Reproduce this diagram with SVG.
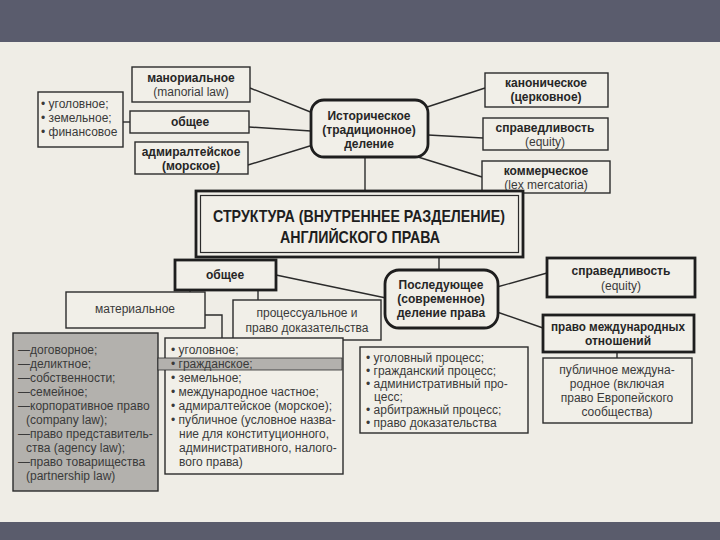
<svg xmlns="http://www.w3.org/2000/svg" width="720" height="540" viewBox="0 0 720 540">
<style>
.bx{fill:#f1efe8;stroke:#2b2b2b;stroke-width:1.4}
.bk{fill:#f1efe8;stroke:#1e1e1e;stroke-width:2.8}
.rn{fill:#f1efe8;stroke:#1e1e1e;stroke-width:2.8}
.ln{fill:none;stroke:#2b2b2b;stroke-width:1.4}
text{font-family:"Liberation Sans",Arial,sans-serif;font-size:12px;fill:#3a3a3a}
.b{font-weight:bold;font-size:12px;fill:#262626}
.c{text-anchor:middle}
.t{font-weight:bold;font-size:16.5px;fill:#1e1e1e;text-anchor:middle}
</style>
<rect x="0" y="0" width="720" height="540" fill="#efede6"/>
<rect x="0" y="0" width="720" height="42" fill="#5a5c6d"/>
<rect x="0" y="522" width="720" height="18" fill="#5a5c6c"/>

<g id="connectors">
<line class="ln" x1="123" y1="122" x2="130" y2="122"/>
<line class="ln" x1="250" y1="88" x2="313" y2="113"/>
<line class="ln" x1="249" y1="127" x2="311" y2="131"/>
<line class="ln" x1="248" y1="165" x2="313" y2="145"/>
<line class="ln" x1="418" y1="110" x2="485" y2="88"/>
<line class="ln" x1="428" y1="135" x2="483" y2="138"/>
<line class="ln" x1="418" y1="157" x2="482" y2="177"/>
<line class="ln" x1="365" y1="157" x2="365" y2="191"/>
<line class="ln" x1="439" y1="257" x2="439" y2="270"/>
<line class="ln" x1="276" y1="275" x2="386" y2="298"/>
<line class="ln" x1="497" y1="287" x2="547" y2="273"/>
<line class="ln" x1="497" y1="312" x2="543" y2="328"/>
<line class="ln" x1="617" y1="352" x2="617" y2="358"/>
<line class="ln" x1="190" y1="290" x2="190" y2="292"/>
<line class="ln" x1="258" y1="290" x2="258" y2="300"/>
<polyline class="ln" points="205,315 222,315 222,338"/>
</g>

<g id="n-list-top">
<rect class="bx" x="38" y="92" width="85" height="55"/>
<text x="41" y="108">• уголовное;</text>
<text x="41" y="122">• земельное;</text>
<text x="41" y="136">• финансовое</text>
</g>
<g id="n-manorial">
<rect class="bx" x="132" y="67" width="118" height="35"/>
<text class="b c" x="191" y="82">манориальное</text>
<text class="c" x="191" y="96">(manorial law)</text>
</g>
<g id="n-common-top">
<rect class="bx" x="130" y="111" width="119" height="22"/>
<text class="b c" x="190" y="126">общее</text>
</g>
<g id="n-admiralty">
<rect class="bx" x="135" y="142" width="113" height="32"/>
<text class="b c" x="191" y="156">адмиралтейское</text>
<text class="b c" x="191" y="170">(морское)</text>
</g>
<g id="n-historical">
<rect class="rn" x="311" y="100" width="117" height="57" rx="13"/>
<text class="b c" x="369" y="120">Историческое</text>
<text class="b c" x="369" y="134">(традиционное)</text>
<text class="b c" x="369" y="148">деление</text>
</g>
<g id="n-canon">
<rect class="bx" x="485" y="73" width="123" height="34"/>
<text class="b c" x="546" y="87">каноническое</text>
<text class="b c" x="546" y="101">(церковное)</text>
</g>
<g id="n-equity-top">
<rect class="bx" x="483" y="118" width="125" height="32"/>
<text class="b c" x="545" y="132">справедливость</text>
<text class="c" x="545" y="146">(equity)</text>
</g>
<g id="n-commercial">
<rect class="bx" x="482" y="161" width="128" height="32"/>
<text class="b c" x="546" y="175">коммерческое</text>
<text class="c" x="546" y="189">(lex mercatoria)</text>
</g>

<g id="n-structure">
<rect class="bk" x="196" y="191" width="327" height="66"/>
<rect x="200.5" y="195.5" width="318" height="57" fill="none" stroke="#2b2b2b" stroke-width="1.2"/>
<text class="t" x="359" y="222" textLength="292" lengthAdjust="spacingAndGlyphs">СТРУКТУРА (ВНУТРЕННЕЕ РАЗДЕЛЕНИЕ)</text>
<text class="t" x="360" y="243" textLength="160" lengthAdjust="spacingAndGlyphs">АНГЛИЙСКОГО ПРАВА</text>
</g>

<g id="n-common">
<rect class="bk" x="175" y="260" width="101" height="30"/>
<text class="b c" x="225" y="279">общее</text>
</g>
<g id="n-modern">
<rect class="rn" x="385" y="270" width="113" height="58" rx="14"/>
<text class="b c" x="441" y="289">Последующее</text>
<text class="b c" x="441" y="303">(современное)</text>
<text class="b c" x="441" y="317">деление права</text>
</g>
<g id="n-equity">
<rect class="bk" x="547" y="258" width="148" height="39"/>
<text class="b c" x="621" y="275">справедливость</text>
<text class="c" x="621" y="290">(equity)</text>
</g>
<g id="n-intl">
<rect class="bk" x="543" y="315" width="151" height="37"/>
<text class="b c" x="618" y="331" textLength="134" lengthAdjust="spacingAndGlyphs">право международных</text>
<text class="b c" x="618" y="345">отношений</text>
</g>
<g id="n-public-intl">
<rect class="bx" x="543" y="358" width="149" height="65"/>
<text class="c" x="617" y="374">публичное междуна-</text>
<text class="c" x="617" y="388">родное (включая</text>
<text class="c" x="617" y="402">право Европейского</text>
<text class="c" x="617" y="416">сообщества)</text>
</g>
<g id="n-material">
<rect class="bx" x="66" y="292" width="139" height="36"/>
<text class="c" x="135" y="313">материальное</text>
</g>
<g id="n-procedural">
<rect class="bx" x="233" y="300" width="148" height="40"/>
<text class="c" x="307" y="317">процессуальное и</text>
<text class="c" x="307" y="332">право доказательства</text>
</g>

<g id="n-civil-list">
<rect x="13" y="333" width="145" height="158" fill="#b3b1ad" stroke="#2b2b2b" stroke-width="1.4"/>
<text x="18" y="354">—договорное;</text>
<text x="18" y="368">—деликтное;</text>
<text x="18" y="382">—собственности;</text>
<text x="18" y="396">—семейное;</text>
<text x="18" y="410">—корпоративное право</text>
<text x="26" y="424">(company law);</text>
<text x="18" y="438">—право представитель-</text>
<text x="26" y="452">ства (agency law);</text>
<text x="18" y="466">—право товарищества</text>
<text x="26" y="480">(partnership law)</text>
</g>
<g id="n-branches">
<rect class="bx" x="165" y="338" width="178" height="136"/>
<rect x="158" y="358" width="184" height="12" fill="#b3b1ad" stroke="#2b2b2b" stroke-width="0.8"/>
<text x="171" y="354">• уголовное;</text>
<text x="171" y="368">• гражданское;</text>
<text x="171" y="382">• земельное;</text>
<text x="171" y="396">• международное частное;</text>
<text x="171" y="410">• адмиралтейское (морское);</text>
<text x="171" y="424">• публичное (условное назва-</text>
<text x="179" y="438">ние для конституционного,</text>
<text x="179" y="452">административного, налого-</text>
<text x="179" y="466">вого права)</text>
</g>
<g id="n-process-list">
<rect class="bx" x="360" y="347" width="168" height="86"/>
<text x="366" y="362">• уголовный процесс;</text>
<text x="366" y="375">• гражданский процесс;</text>
<text x="366" y="388">• административный про-</text>
<text x="374" y="401">цесс;</text>
<text x="366" y="414">• арбитражный процесс;</text>
<text x="366" y="427">• право доказательства</text>
</g>
</svg>
